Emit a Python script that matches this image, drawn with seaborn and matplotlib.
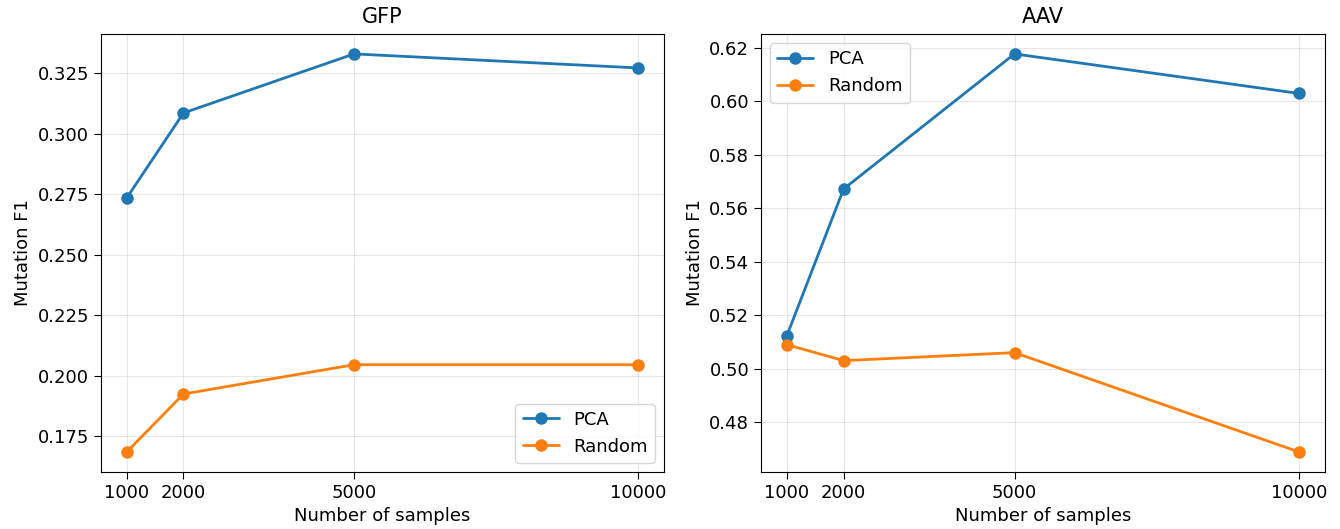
import matplotlib
matplotlib.use('Agg')
import matplotlib.pyplot as plt
import pandas as pd
import seaborn as sns

samples = [1000, 2000, 5000, 10000]
gfp_pca = [0.2733, 0.3085, 0.3329, 0.3271]
gfp_random = [0.1684, 0.1924, 0.2045, 0.2045]
aav_pca = [0.5121, 0.5672, 0.6177, 0.6029]
aav_random = [0.5090, 0.5030, 0.5060, 0.4688]

sns.set_style('ticks', rc={'axes.edgecolor': 'black', 'text.color': 'black',
                           'axes.labelcolor': 'black', 'xtick.color': 'black',
                           'ytick.color': 'black', 'grid.color': '#b0b0b0'})
plt.rcParams['font.family'] = ['DejaVu Sans']

def make_df(pca, rnd):
    df = pd.DataFrame({'n': samples * 2,
                       'f1': pca + rnd,
                       'method': ['PCA'] * 4 + ['Random'] * 4})
    return df

fig, axes = plt.subplots(1, 2, figsize=(13.4, 5.29), dpi=100)
panels = [('GFP', gfp_pca, gfp_random, 'lower right'),
          ('AAV', aav_pca, aav_random, 'upper left')]
for ax, (name, pca, rnd, loc) in zip(axes, panels):
    df = make_df(pca, rnd)
    sns.lineplot(data=df, x='n', y='f1', hue='method', marker='o',
                 markersize=9, markeredgewidth=0, linewidth=2,
                 palette=['#1f77b4', '#ff7f0e'], ax=ax)
    ax.set_xticks(samples)
    ax.set_title(name, fontsize=15, pad=8)
    ax.set_xlabel('Number of samples', fontsize=13)
    ax.set_ylabel('Mutation F1', fontsize=13)
    ax.tick_params(labelsize=13, length=5)
    ax.grid(True, alpha=0.3)
    for s in ax.spines.values():
        s.set_visible(True)
    ax.legend(loc=loc, fontsize=13, title=None)

axes[0].set_yticks([0.175, 0.2, 0.225, 0.25, 0.275, 0.3, 0.325])
axes[1].set_yticks([0.48, 0.5, 0.52, 0.54, 0.56, 0.58, 0.6, 0.62])

# axes boxes in pixels: left 101-664, right 761-1325, top 34, bottom 472
W, H = 1340, 529
axes[0].set_position([101 / W, (H - 472) / H, 563 / W, 438 / H])
axes[1].set_position([761 / W, (H - 472) / H, 564 / W, 438 / H])

plt.savefig('out.png', dpi=100)
